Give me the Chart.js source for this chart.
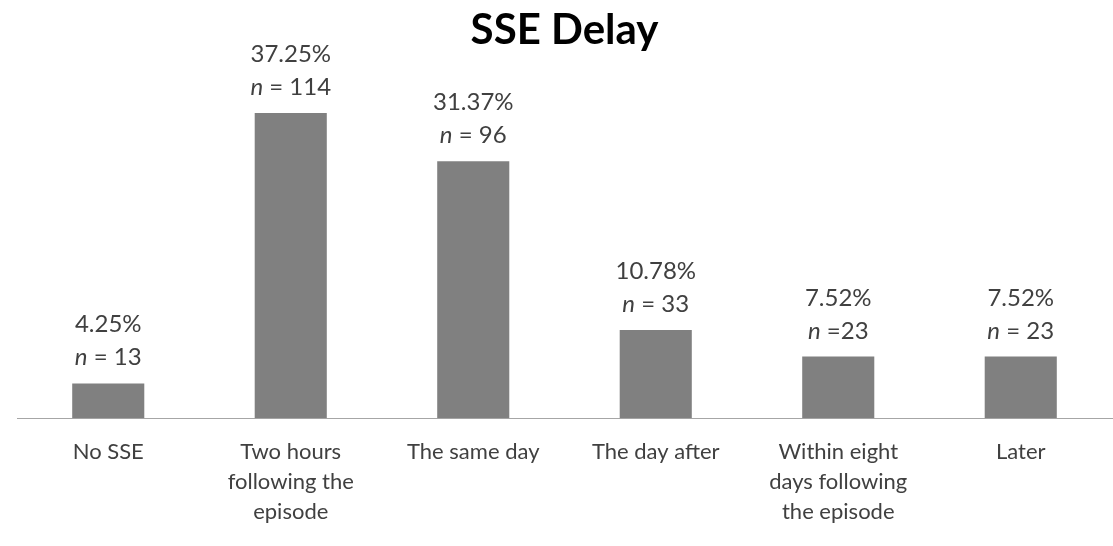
<!DOCTYPE html>
<html>
<head>
<meta charset="utf-8">
<script src="https://cdn.jsdelivr.net/npm/chart.js@4.4.1/dist/chart.umd.min.js"></script>
<style>
  html, body { margin: 0; padding: 0; background: #ffffff; }
  #wrap { width: 1113px; height: 546px; position: relative; }
</style>
</head>
<body>
<div id="wrap"><canvas id="c" width="1113" height="546"></canvas></div>
<script>
const categories = [
  ['No SSE'],
  ['Two hours', 'following the', 'episode'],
  ['The same day'],
  ['The day after'],
  ['Within eight', 'days following', 'the episode'],
  ['Later']
];
const percentages = [4.25, 37.25, 31.37, 10.78, 7.52, 7.52];
const nLabels = ['n = 13', 'n = 114', 'n = 96', 'n = 33', 'n =23', 'n = 23'];
const titleText = 'SSE Delay';

const FONT = 'Lato, "Open Sans", sans-serif';
const LABEL_COLOR = '#404040';

const barLabels = {
  id: 'barLabels',
  afterDatasetsDraw(chart) {
    const ctx = chart.ctx;
    const meta = chart.getDatasetMeta(0);
    ctx.save();
    ctx.fillStyle = LABEL_COLOR;
    ctx.textBaseline = 'alphabetic';
    meta.data.forEach((bar, i) => {
      const x = bar.x;
      const base2 = bar.y - 18;
      const base1 = base2 - 33;
      ctx.font = '24px ' + FONT;
      ctx.textAlign = 'center';
      ctx.fillText(percentages[i].toFixed(2) + '%', x, base1);
      const lbl = nLabels[i];
      const first = lbl.charAt(0);
      const rest = lbl.slice(1);
      ctx.font = 'italic 24px ' + FONT;
      const w1 = ctx.measureText(first).width;
      ctx.font = '24px ' + FONT;
      const w2 = ctx.measureText(rest).width;
      const start = x - (w1 + w2) / 2;
      ctx.textAlign = 'left';
      ctx.font = 'italic 24px ' + FONT;
      ctx.fillText(first, start, base2);
      ctx.font = '24px ' + FONT;
      ctx.fillText(rest, start + w1, base2);
    });
    ctx.restore();
  }
};

new Chart(document.getElementById('c'), {
  type: 'bar',
  data: {
    labels: categories,
    datasets: [{
      data: percentages,
      backgroundColor: '#808080',
      borderWidth: 0,
      categoryPercentage: 1.0,
      barPercentage: 0.395
    }]
  },
  options: {
    responsive: false,
    animation: false,
    layout: { padding: { left: 17, right: 1, top: 0, bottom: 0 } },
    plugins: {
      legend: { display: false },
      tooltip: { enabled: false },
      title: {
        display: true,
        text: titleText,
        color: '#000000',
        font: { family: FONT, size: 42, weight: 'bold', lineHeight: 1.2 },
        padding: { top: 5, bottom: 35 }
      }
    },
    scales: {
      x: {
        grid: { display: false, drawTicks: false },
        border: { display: true, color: '#a6a6a6', width: 1 },
        ticks: {
          color: LABEL_COLOR,
          font: { family: FONT, size: 22, lineHeight: 1.36 },
          padding: 19,
          maxRotation: 0,
          autoSkip: false
        }
      },
      y: {
        display: false,
        min: 0,
        max: 40
      }
    }
  },
  plugins: [barLabels]
});
</script>
</body>
</html>
